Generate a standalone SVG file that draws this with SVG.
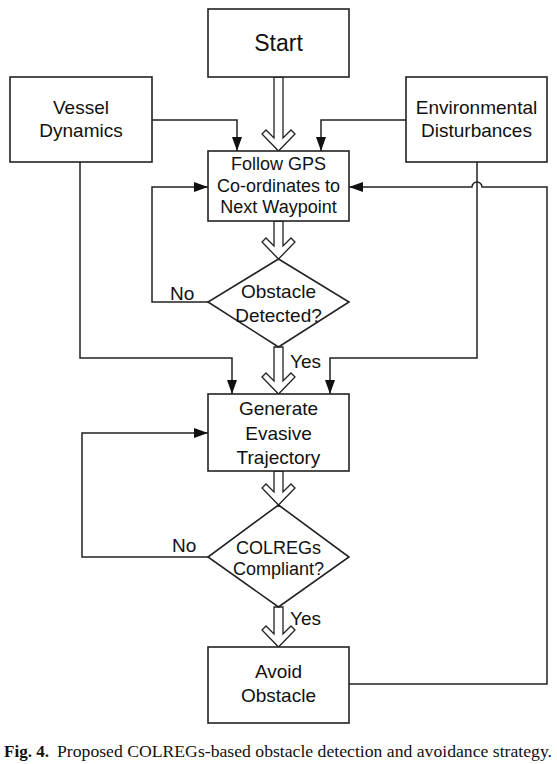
<svg xmlns="http://www.w3.org/2000/svg" width="557" height="764" viewBox="0 0 557 764">
<defs>
<marker id="ahb" viewBox="0 0 14 10" refX="14" refY="5" markerWidth="14" markerHeight="10" markerUnits="userSpaceOnUse" orient="auto">
<path d="M0,0 L14,5 L0,10 z" fill="#111"/>
</marker>
</defs>
<style>
.box{fill:#fff;stroke:#222;stroke-width:1.6}
.t{font-family:"Liberation Sans",Arial,sans-serif;font-size:19px;fill:#111;text-anchor:middle}
.s{font-size:18px}
.lbl{font-family:"Liberation Sans",Arial,sans-serif;font-size:19px;fill:#111}
.ln{fill:none;stroke:#222;stroke-width:1.5}
.dbl{fill:#fff;stroke:#222;stroke-width:1.3;stroke-linejoin:miter}
.cap{font-family:"Liberation Serif","Times New Roman",serif;font-size:17px;fill:#111}
</style>
<rect width="557" height="764" fill="#fff"/>

<g id="connectors">
<path class="ln" d="M152,120 H237 V151" marker-end="url(#ahb)"/>
<path class="ln" d="M406,120 H321 V151" marker-end="url(#ahb)"/>
<path class="ln" d="M80,162 V358 H232 V394" marker-end="url(#ahb)"/>
<path class="ln" d="M477,162 V358 H330 V394" marker-end="url(#ahb)"/>
<path class="ln" d="M208,302 H152 V187 H208" marker-end="url(#ahb)"/>
<path class="ln" d="M208,557 H82 V433 H208" marker-end="url(#ahb)"/>
<path class="ln" d="M349,684 H547 V187 H482 A5,5 0 0 0 472,187 H349" marker-end="url(#ahb)"/>
<polygon class="dbl" points="274,77 283,77 283,138 291,130 295,134 278.5,151 262,134 266,130 274,138"/>
<polygon class="dbl" points="274,221 283,221 283,246 291,238 295,242 278.5,259 262,242 266,238 274,246"/>
<polygon class="dbl" points="274,347 283,347 283,381 291,373 295,377 278.5,394 262,377 266,373 274,381"/>
<polygon class="dbl" points="274,471 283,471 283,492 291,484 295,488 278.5,505 262,488 266,484 274,492"/>
<polygon class="dbl" points="274,607 283,607 283,634 291,626 295,630 278.5,647 262,630 266,626 274,634"/>
<text class="lbl" x="170" y="300">No</text>
<text class="lbl" x="290" y="368">Yes</text>
<text class="lbl" x="172" y="552">No</text>
<text class="lbl" x="290" y="625">Yes</text>
</g>

<g id="start">
<rect class="box" x="208" y="9" width="141" height="68"/>
<text class="t" x="278.5" y="51" style="font-size:23px">Start</text>
</g>

<g id="vessel">
<rect class="box" x="10" y="77" width="142" height="85"/>
<text class="t" x="81" y="114">Vessel</text>
<text class="t" x="81" y="137">Dynamics</text>
</g>

<g id="env">
<rect class="box" x="406" y="77" width="141" height="85"/>
<text class="t" x="476.5" y="114">Environmental</text>
<text class="t" x="476.5" y="137">Disturbances</text>
</g>

<g id="follow">
<rect class="box" x="208" y="151" width="141" height="70"/>
<text class="t s" x="278.5" y="170">Follow GPS</text>
<text class="t s" x="278.5" y="192">Co-ordinates to</text>
<text class="t s" x="278.5" y="213">Next Waypoint</text>
</g>

<g id="obstacle">
<polygon class="box" points="278.5,259 349,302 278.5,347 208,302"/>
<text class="t" x="278.5" y="298">Obstacle</text>
<text class="t" x="278.5" y="322">Detected?</text>
</g>

<g id="generate">
<rect class="box" x="208" y="394" width="141" height="77"/>
<text class="t" x="278.5" y="415">Generate</text>
<text class="t" x="278.5" y="440">Evasive</text>
<text class="t" x="278.5" y="464">Trajectory</text>
</g>

<g id="colregs">
<polygon class="box" points="278.5,505 349,557 278.5,607 208,557"/>
<text class="t s" x="278.5" y="554">COLREGs</text>
<text class="t s" x="278.5" y="575">Compliant?</text>
</g>

<g id="avoid">
<rect class="box" x="208" y="647" width="141" height="76"/>
<text class="t" x="278.5" y="678">Avoid</text>
<text class="t" x="278.5" y="702">Obstacle</text>
</g>

<text class="cap" x="4" y="757" font-weight="bold" textLength="45" lengthAdjust="spacingAndGlyphs">Fig. 4.</text>
<text class="cap" x="57" y="757" textLength="495" lengthAdjust="spacingAndGlyphs">Proposed COLREGs-based obstacle detection and avoidance strategy.</text>
</svg>
